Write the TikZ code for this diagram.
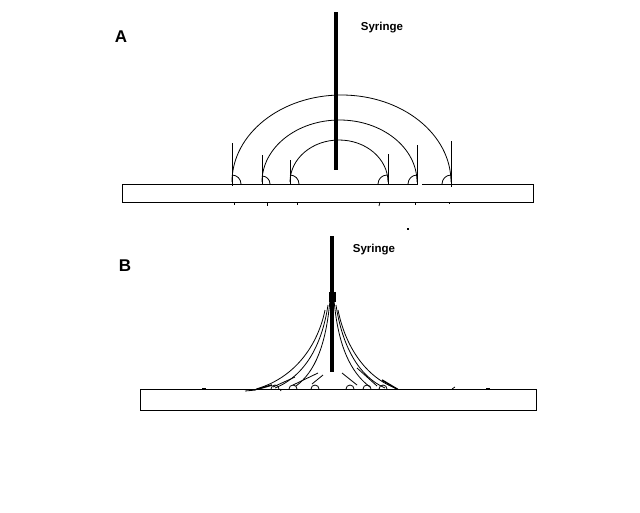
\documentclass[tikz,border=0pt]{standalone}
\usepackage{fontspec}
\setmainfont{Liberation Sans}
\begin{document}
\begin{tikzpicture}[x=1pt,y=-1pt,
  thinl/.style={line width=0.8pt},
  syr/.style={line width=4pt},
  lbl/.style={font=\bfseries\fontsize{17}{17}\selectfont,inner sep=0pt},
  syrlbl/.style={font=\bfseries\fontsize{11.5}{11.5}\selectfont,inner sep=0pt}]
\useasboundingbox[fill=white] (0,0) rectangle (640,512);
% ---------- Panel A ----------
\node[lbl] (la) at (121,37) {A};
\node[syrlbl] (sa) at (382,28) {Syringe};
\draw[thinl] (122,184) rectangle (533,202);
\draw[syr] (336,12) -- (336,170);
% semi-elliptical lines
\draw[thinl] (232,182) arc[start angle=180,end angle=360,x radius=109.5,y radius=87];
\draw[thinl] (262,182) arc[start angle=180,end angle=360,x radius=77.5,y radius=62];
\draw[thinl] (290,182) arc[start angle=180,end angle=360,x radius=49,y radius=42];
% vertical ticks
\draw[thinl] (232,143) -- (232,186);
\draw[thinl] (262,155) -- (262,184);
\draw[thinl] (290,160) -- (290,184);
\draw[thinl] (388,154) -- (388,184);
\draw[thinl] (417,145) -- (417,184);
\draw[thinl] (451,141) -- (451,187);
% small contact arcs
\draw[thinl] (232,175) arc[start angle=270,end angle=360,radius=9];
\draw[thinl] (262,176) arc[start angle=270,end angle=360,radius=8];
\draw[thinl] (290,175) arc[start angle=270,end angle=360,radius=9];
\draw[thinl] (378,184) arc[start angle=180,end angle=270,radius=9];
\draw[thinl] (408,184) arc[start angle=180,end angle=270,radius=9];
\draw[thinl] (442,184) arc[start angle=180,end angle=270,radius=9];
% gap in the top edge
\fill[white] (418,183) rectangle (422,185);
% small marks below the bar
\draw[thinl] (234,202) -- (234,205);
\draw[thinl] (267,202) -- (267,206);
\draw[thinl] (297,202) -- (297,205);
\draw[thinl] (380,202) -- (379,206);
\draw[thinl] (415,202) -- (415,205);
\draw[thinl] (449,202) -- (449,204);
\fill (407,228) rectangle (409,230);
% ---------- Panel B ----------
\node[lbl] (lb) at (125,266) {B};
\node[syrlbl] (sb) at (374,250) {Syringe};
\draw[thinl] (140,389) rectangle (536,410);
\draw[syr] (332,236) -- (332,372);
\fill (329,292) rectangle (336,302);
% cusp-shaped lines, left
\draw[thinl] (256,389) .. controls (295,378) and (318,345) .. (325,310);
\draw[thinl] (275,388) .. controls (305,376) and (322,345) .. (328,305);
\draw[thinl] (296,386) .. controls (315,372) and (326,345) .. (330,300);
% cusp-shaped lines, right
\draw[thinl] (398,389) .. controls (365,378) and (345,345) .. (338,310);
\draw[thinl] (385,388) .. controls (358,376) and (342,345) .. (336,305);
\draw[thinl] (370,387) .. controls (350,372) and (338,345) .. (334,300);
% short tangent lines
\draw[thinl] (273,387) -- (295,377);
\draw[thinl] (293,385) -- (318,373);
\draw[thinl] (312,384) -- (323,375);
\draw[thinl] (342,373) -- (357,385);
\draw[thinl] (357,368) -- (377,386);
\draw[line width=1.5pt] (382,380) -- (397,389);
\draw[line width=1.5pt] (258,389) -- (272,385);
% small arcs on the base
\draw[thinl] (271,389) arc[start angle=180,end angle=360,radius=4];
\draw[thinl] (289,389) arc[start angle=180,end angle=360,radius=4];
\draw[thinl] (311,389) arc[start angle=180,end angle=360,radius=4];
\draw[thinl] (346,389) arc[start angle=180,end angle=360,radius=4];
\draw[thinl] (363,389) arc[start angle=180,end angle=360,radius=4];
\draw[thinl] (379,389) arc[start angle=180,end angle=360,radius=4];
% small marks on the base
\draw[line width=1.2pt] (202,389) -- (206,389);
\draw[thinl] (245,391) -- (256,390);
\draw[thinl] (280,389) -- (281,391);
\draw[thinl] (452,389) -- (455,387);
\draw[line width=1.2pt] (486,389) -- (490,389);
\end{tikzpicture}
\end{document}
